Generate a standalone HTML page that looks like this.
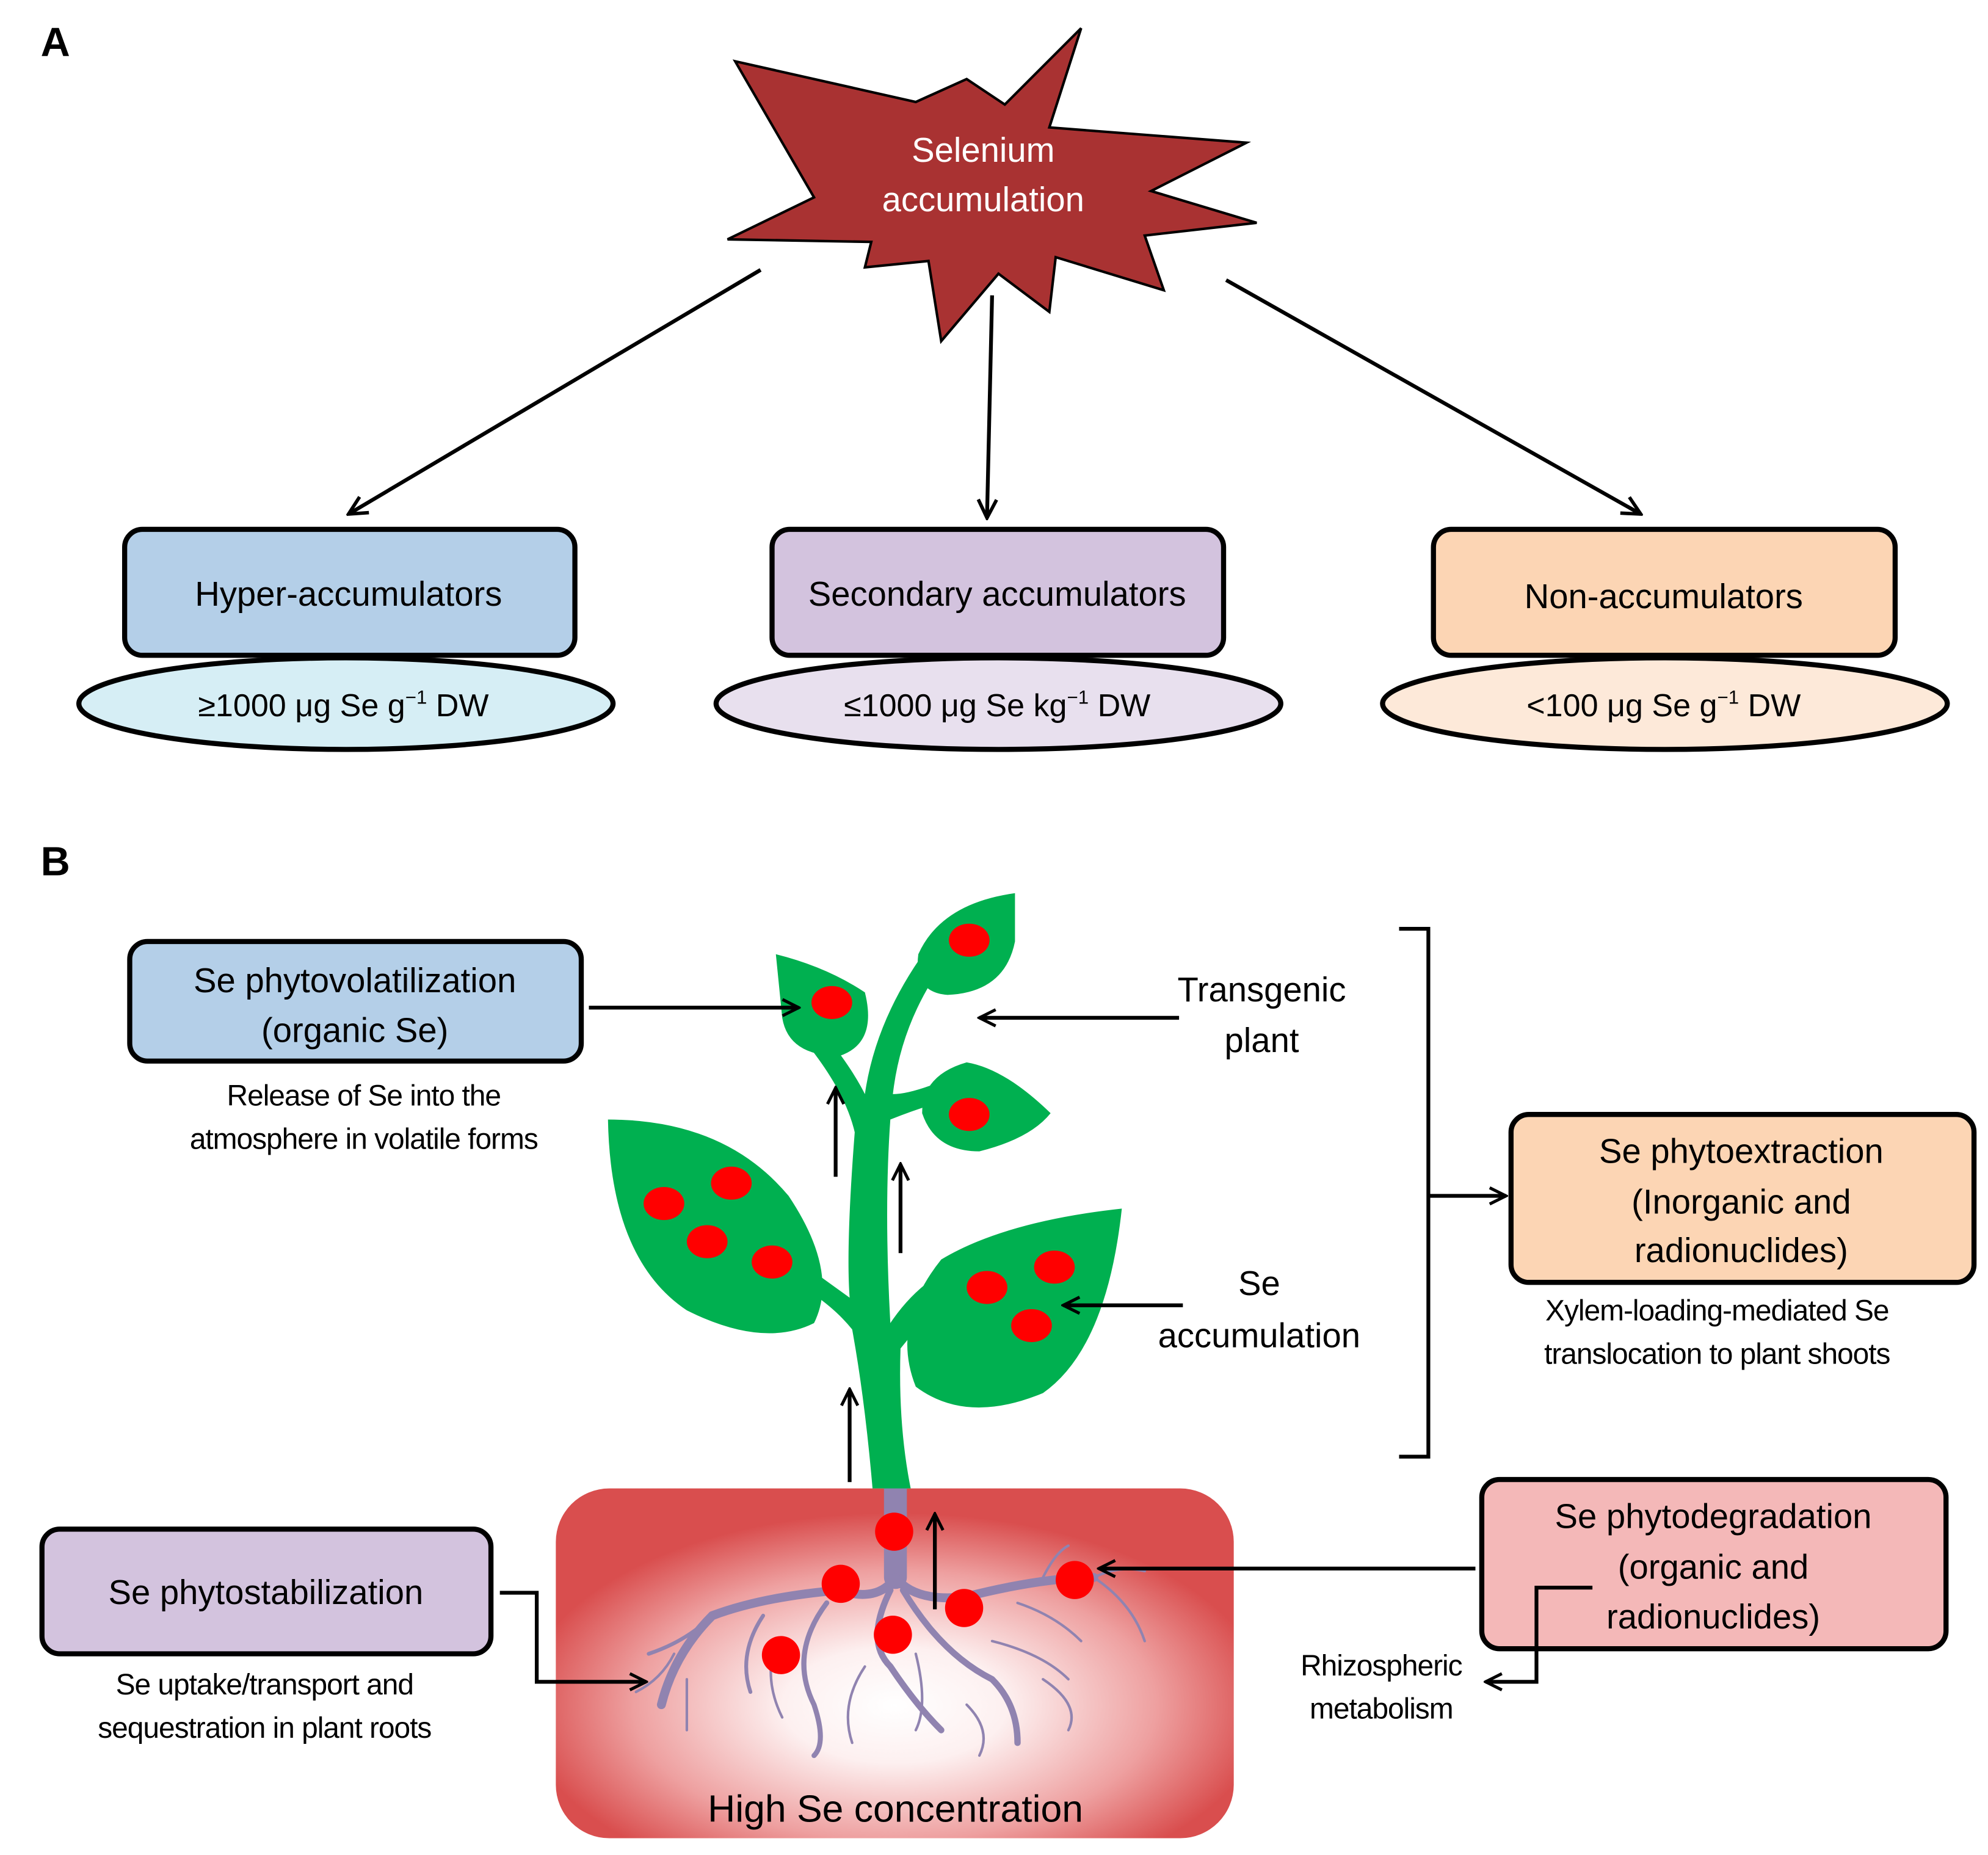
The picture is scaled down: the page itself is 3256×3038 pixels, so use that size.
<!DOCTYPE html>
<html><head><meta charset="utf-8"><style>
html,body{margin:0;padding:0;background:#fff;}
svg{display:block;}
text{font-family:"Liberation Sans",sans-serif;}
</style></head><body>
<svg width="3256" height="3038" viewBox="0 0 1563 1458" xmlns="http://www.w3.org/2000/svg">
<defs>
<marker id="ah" viewBox="0 0 20 20" refX="18" refY="10" markerWidth="16" markerHeight="16" markerUnits="userSpaceOnUse" orient="auto">
<path d="M2,2 L18,10 L2,18" fill="none" stroke="#000" stroke-width="3"/>
</marker>
<marker id="ah2" viewBox="0 0 20 20" refX="18" refY="10" markerWidth="18" markerHeight="18" markerUnits="userSpaceOnUse" orient="auto">
<path d="M2,2 L18,10 L2,18" fill="none" stroke="#000" stroke-width="3"/>
</marker>
<radialGradient id="soil" cx="0.5" cy="0.62" r="0.55" fx="0.5" fy="0.62">
<stop offset="0" stop-color="#fff"/>
<stop offset="0.3" stop-color="#fdf0f0"/>
<stop offset="0.7" stop-color="#eea0a0"/>
<stop offset="1" stop-color="#d94e4e"/>
</radialGradient>
</defs>
<rect width="1563" height="1458" fill="#fff"/>
<text x="32" y="44" font-size="32" font-weight="bold">A</text>
<text x="32" y="688" font-size="32" font-weight="bold">B</text>

<polygon points="578,48 720,80 760,62 790,82 850,22 825,100 980,112 905,150 988,175 900,185 915,228 830,202 825,245 785,215 740,268 730,205 680,210 685,190 572,188 640,155 578,48" fill="#a93232" stroke="#000" stroke-width="2"/>
<text x="773" y="127" font-size="27" fill="#fff" text-anchor="middle">Selenium</text>
<text x="773" y="166" font-size="27" fill="#fff" text-anchor="middle">accumulation</text>

<g stroke="#000" stroke-width="3" fill="none">
<line x1="598" y1="212" x2="274" y2="404" marker-end="url(#ah2)"/>
<line x1="780" y1="232" x2="776" y2="407" marker-end="url(#ah2)"/>
<line x1="964" y1="220" x2="1290" y2="404" marker-end="url(#ah2)"/>
</g>

<g stroke="#000" stroke-width="4">
<ellipse cx="272" cy="553" rx="210" ry="36" fill="#d6eef5"/>
<rect x="98" y="416" width="354" height="99" rx="14" fill="#b4cfe8"/>
<ellipse cx="785" cy="553" rx="222" ry="36" fill="#e8e0ee"/>
<rect x="607" y="416" width="355" height="99" rx="14" fill="#d3c3de"/>
<ellipse cx="1309" cy="553" rx="222" ry="36" fill="#fde9d9"/>
<rect x="1127" y="416" width="363" height="99" rx="14" fill="#fcd5b4"/>
</g>
<g font-size="27" text-anchor="middle">
<text x="274" y="476">Hyper-accumulators</text>
<text x="784" y="476">Secondary accumulators</text>
<text x="1308" y="478">Non-accumulators</text>
</g>
<g font-size="25" text-anchor="middle">
<text x="270" y="563">≥1000 μg Se g<tspan font-size="15" dy="-10">−1</tspan><tspan dy="10"> DW</tspan></text>
<text x="784" y="563">≤1000 μg Se kg<tspan font-size="15" dy="-10">−1</tspan><tspan dy="10"> DW</tspan></text>
<text x="1308" y="563">&lt;100 μg Se g<tspan font-size="15" dy="-10">−1</tspan><tspan dy="10"> DW</tspan></text>
</g>

<rect x="437" y="1170" width="533" height="275" rx="42" fill="url(#soil)"/>
<text x="704" y="1432" font-size="30" text-anchor="middle">High Se concentration</text>

<g stroke="#9083b0" fill="none" stroke-linecap="round">
<path d="M704,1170 L704,1240" stroke-width="18"/>
<path d="M704,1240 Q690,1260 660,1250 Q600,1255 560,1270 Q530,1300 520,1340" stroke-width="7"/>
<path d="M704,1240 Q720,1260 760,1255 Q820,1240 860,1240" stroke-width="7"/>
<path d="M700,1250 Q680,1290 700,1310 Q720,1340 740,1360" stroke-width="5"/>
<path d="M710,1250 Q740,1300 780,1320 Q800,1340 800,1370" stroke-width="5"/>
<path d="M650,1260 Q620,1300 640,1340 Q650,1370 640,1380" stroke-width="4"/>
<path d="M600,1270 Q580,1300 590,1330" stroke-width="3"/>
<path d="M560,1270 Q540,1290 510,1300" stroke-width="3"/>
<path d="M530,1300 Q520,1320 500,1330 M540,1320 Q540,1350 540,1360" stroke-width="2"/>
<path d="M680,1310 Q660,1340 670,1370 M720,1300 Q730,1340 720,1360" stroke-width="2"/>
<path d="M780,1290 Q820,1300 840,1320 M800,1260 Q830,1270 850,1290 M860,1240 Q890,1260 900,1290" stroke-width="2"/>
<path d="M610,1290 Q600,1320 615,1350 M760,1340 Q780,1360 770,1380 M820,1320 Q850,1340 840,1360" stroke-width="2"/>
<path d="M860,1240 Q880,1230 900,1235 M820,1240 Q830,1220 840,1215" stroke-width="2"/>
</g>
<g fill="#ff0000">
<ellipse cx="703" cy="1204" rx="15" ry="15"/>
<ellipse cx="661" cy="1245" rx="15" ry="15"/>
<ellipse cx="758" cy="1264" rx="15" ry="15"/>
<ellipse cx="845" cy="1242" rx="15" ry="15"/>
<ellipse cx="702" cy="1285" rx="15" ry="15"/>
<ellipse cx="614" cy="1301" rx="15" ry="15"/>
</g>

<g fill="#00b050">
<path d="M686,1170 L716,1170 Q706,1120 708,1060 Q740,1020 760,1010 L750,995 Q720,1010 700,1040 Q695,950 700,880 Q725,870 745,865 L740,850 Q715,860 702,860 Q710,790 760,735 L745,725 Q690,790 680,860 Q670,840 650,815 L638,825 Q665,860 672,890 Q665,980 668,1020 Q640,1000 620,985 L610,1000 Q650,1020 670,1045 Q680,1100 686,1170 Z"/>
<path d="M478,880 Q570,880 620,940 Q660,1000 640,1040 Q600,1060 540,1030 Q480,990 478,880 Z"/>
<path d="M882,950 Q790,960 740,990 Q700,1040 720,1090 Q760,1120 820,1095 Q870,1060 882,950 Z"/>
<path d="M798,702 Q740,710 722,750 Q718,780 745,782 Q790,780 798,740 Z"/>
<path d="M610,750 Q650,760 680,780 Q690,820 660,830 Q620,830 615,800 Z"/>
<path d="M826,875 Q790,840 760,835 Q725,845 725,875 Q735,905 770,905 Q810,895 826,875 Z"/>
</g>
<g fill="#ff0000">
<ellipse cx="762" cy="739" rx="16" ry="13"/>
<ellipse cx="654" cy="788" rx="16" ry="13"/>
<ellipse cx="762" cy="876" rx="16" ry="13"/>
<ellipse cx="522" cy="946" rx="16" ry="13"/>
<ellipse cx="575" cy="930" rx="16" ry="13"/>
<ellipse cx="556" cy="976" rx="16" ry="13"/>
<ellipse cx="607" cy="992" rx="16" ry="13"/>
<ellipse cx="829" cy="996" rx="16" ry="13"/>
<ellipse cx="776" cy="1012" rx="16" ry="13"/>
<ellipse cx="811" cy="1042" rx="16" ry="13"/>
</g>

<g stroke="#000" stroke-width="4">
<rect x="102" y="740" width="355" height="94" rx="14" fill="#b4cfe8"/>
<rect x="1188" y="876" width="364" height="132" rx="14" fill="#fcd5b4"/>
<rect x="33" y="1202" width="353" height="98" rx="14" fill="#d3c3de"/>
<rect x="1165" y="1163" width="365" height="133" rx="14" fill="#f4b8b8"/>
</g>

<g stroke="#000" stroke-width="3" fill="none">
<line x1="463" y1="792" x2="628" y2="792" marker-end="url(#ah)"/>
<line x1="927" y1="800" x2="770" y2="800" marker-end="url(#ah)"/>
<line x1="930" y1="1026" x2="836" y2="1026" marker-end="url(#ah)"/>
<line x1="657" y1="925" x2="657" y2="855" marker-end="url(#ah)"/>
<line x1="708" y1="985" x2="708" y2="915" marker-end="url(#ah)"/>
<line x1="668" y1="1165" x2="668" y2="1092" marker-end="url(#ah)"/>
<line x1="735" y1="1265" x2="735" y2="1190" marker-end="url(#ah)"/>
<line x1="1160" y1="1233" x2="864" y2="1233" marker-end="url(#ah)"/>
<polyline points="393,1252 422,1252 422,1322 508,1322" marker-end="url(#ah)"/>
<polyline points="1252,1248 1208,1248 1208,1322 1168,1322" marker-end="url(#ah)"/>
<polyline points="1100,730 1123,730 1123,1145 1100,1145"/>
<line x1="1123" y1="940" x2="1184" y2="940" marker-end="url(#ah)"/>
</g>

<g font-size="27" text-anchor="middle">
<text x="279" y="780">Se phytovolatilization</text>
<text x="279" y="819">(organic Se)</text>
<text x="1369" y="914">Se phytoextraction</text>
<text x="1369" y="954">(Inorganic and</text>
<text x="1369" y="992">radionuclides)</text>
<text x="209" y="1261">Se phytostabilization</text>
<text x="1347" y="1201">Se phytodegradation</text>
<text x="1347" y="1241">(organic and</text>
<text x="1347" y="1280">radionuclides)</text>
<text x="992" y="787">Transgenic</text>
<text x="992" y="827">plant</text>
<text x="990" y="1018">Se</text>
<text x="990" y="1059">accumulation</text>
</g>
<g font-size="23" text-anchor="middle" letter-spacing="-0.5">
<text x="286" y="869">Release of Se into the</text>
<text x="286" y="903">atmosphere in volatile forms</text>
<text x="1350" y="1038">Xylem-loading-mediated Se</text>
<text x="1350" y="1072">translocation to plant shoots</text>
<text x="208" y="1332">Se uptake/transport and</text>
<text x="208" y="1366">sequestration in plant roots</text>
<text x="1086" y="1317">Rhizospheric</text>
<text x="1086" y="1351">metabolism</text>
</g>
</svg>
</body></html>
